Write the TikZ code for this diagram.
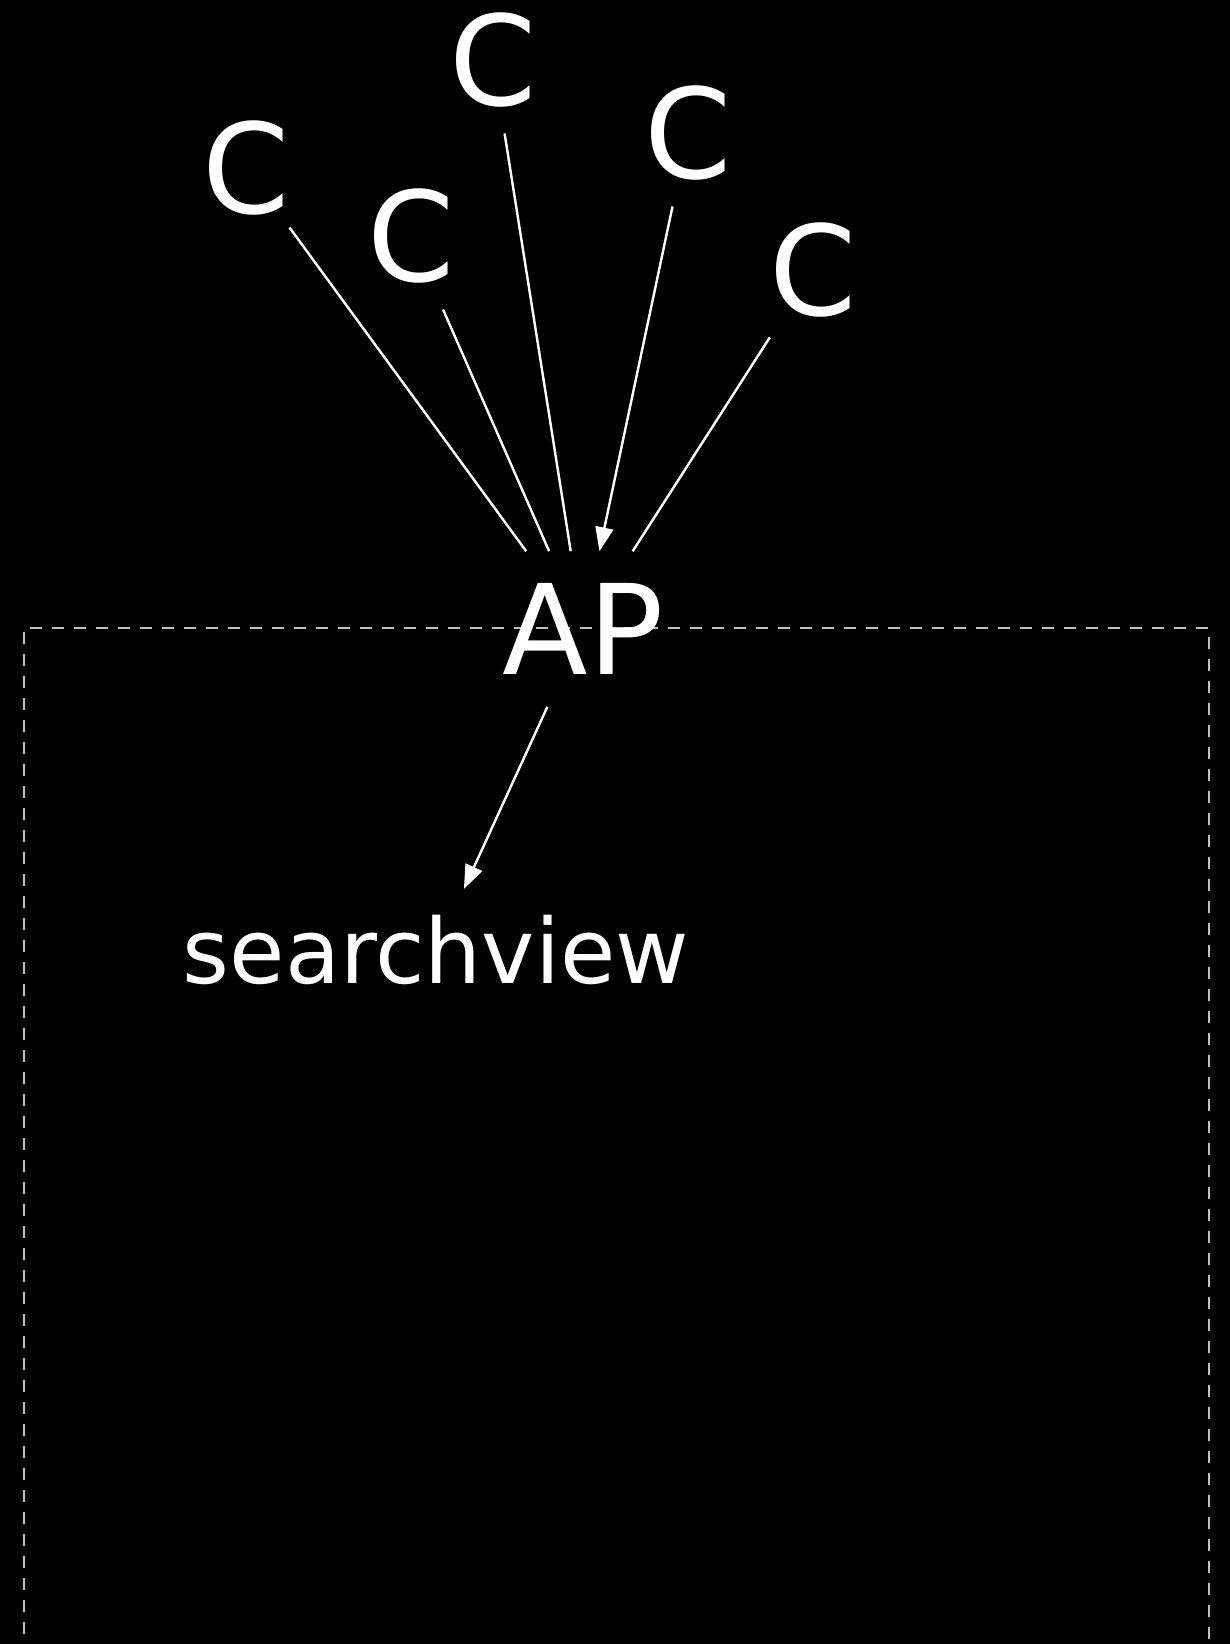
\documentclass[tikz,border=0pt]{standalone}
\usepackage{fontspec}
\setmainfont{DejaVu Sans}
\usepackage{tikz}
\usetikzlibrary{arrows.meta}
\tikzset{
  client/.style={text=white, inner sep=26pt, font=\fontsize{125}{130}\selectfont},
  link/.style={draw=white, line width=2.4pt},
  linkarrow/.style={link, -{Triangle[length=24pt,width=18pt]}}
}

\begin{document}
\begin{tikzpicture}[x=1pt, y=-1pt]
    \clip (0,0) rectangle (1230,1644);
    \fill[black] (0,0) rectangle (1230,1644);
    % dashed frame
    \draw[gray!50!white, line width=1.6pt, dash pattern=on 12pt off 10pt]
      (24,1700) -- (24,628) -- (1209,628) -- (1209,1700);
    \node[client, inner sep=12pt] (c1) at (246,168) {C};
    \node[client] (c2) at (411,236) {C};
    \node[client] (c3) at (493,60) {C};
    \node[client] (c4) at (688,133) {C};
    \node[client, inner sep=20pt] (c5) at (813,270) {C};
    \node[client, inner sep=32pt] (ap) at (583,629) {AP};
    \node[text=white, inner sep=26pt, font=\fontsize{90}{95}\selectfont]
      (searchview) at (436,950) {searchview};
    \draw[link] (c1) -- (ap);
    \draw[link] (c2) -- (ap);
    \draw[link] (c3) -- (ap);
    \draw[linkarrow] (c4) -- (ap);
    \draw[link] (c5) -- (ap);
    \draw[linkarrow] (ap) -- (searchview);
  \end{tikzpicture}
\end{document}
